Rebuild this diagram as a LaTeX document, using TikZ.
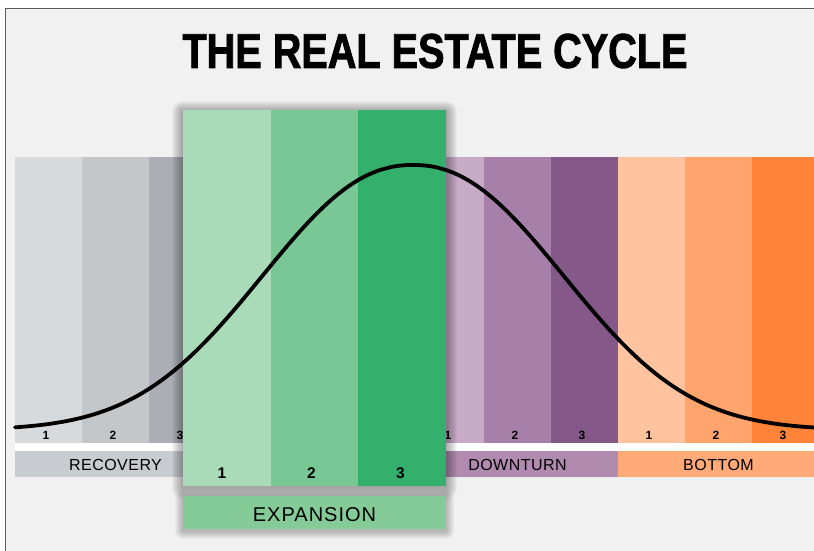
\documentclass[tikz,border=0pt]{standalone}
\usepackage{fontspec}
\setmainfont{Liberation Sans}
\usepackage{graphicx}
\definecolor{bgc}{HTML}{F0F1F0}
\definecolor{framec}{HTML}{5A5A5A}
\definecolor{g1}{HTML}{D7DADD}
\definecolor{g2}{HTML}{C3C7CA}
\definecolor{g3}{HTML}{ABAFB5}
\definecolor{e1}{HTML}{A9DBB8}
\definecolor{e2}{HTML}{78C794}
\definecolor{e3}{HTML}{33B06C}
\definecolor{p1}{HTML}{C8ABC7}
\definecolor{p2}{HTML}{A680A8}
\definecolor{p3}{HTML}{845889}
\definecolor{o1}{HTML}{FFC49F}
\definecolor{o2}{HTML}{FFA46C}
\definecolor{o3}{HTML}{FF8338}
\definecolor{lrec}{HTML}{C8CBCF}
\definecolor{lexp}{HTML}{85CB98}
\definecolor{ldown}{HTML}{B18AB0}
\definecolor{lbot}{HTML}{FFAA77}
\tikzset{
  segnum/.style={inner sep=0pt, font=\fontsize{12}{14}\selectfont\bfseries},
  bignum/.style={inner sep=0pt, font=\fontsize{15.5}{18}\selectfont\bfseries},
  barlabel/.style={inner sep=0pt, font=\fontsize{16}{19}\selectfont\addfontfeatures{LetterSpace=3}},
  explabel/.style={inner sep=0pt, font=\fontsize{20}{24}\selectfont\addfontfeatures{LetterSpace=5}},
  cyclecurve/.style={line width=3.8pt, line cap=round, line join=round}
}
\begin{document}
\begin{tikzpicture}[x=1pt,y=-1pt]
\useasboundingbox (0,0) rectangle (814,550);
\clip (0,0) rectangle (814,550);
% frame
\fill[white] (0,0) rectangle (814,550);
\fill[bgc] (5,8) rectangle (830,570);
\draw[framec, line width=1.6pt] (5.5,570) -- (5.5,8.3) -- (830,8.3);
% title
\node[inner sep=0pt] (title) at (435,51)
  {\resizebox{505pt}{34pt}{\bfseries\addfontfeatures{FakeBold=2}THE REAL ESTATE CYCLE}};
% bands
\foreach \c [count=\i from 0] in {g1,g2,g3,e1,e2,e3,p1,p2,p3,o1,o2,o3}{
  \fill[\c] (15+67*\i,157) rectangle (82+67*\i,443);
}
\foreach \n [count=\i from 0] in {1,2,3,1,2,3,1,2,3,1,2,3}{
  \node[segnum] (num\i) at (46+67*\i,435) {\n};
}
\fill[white] (15,443) rectangle (830,451);
% label bars
\fill[lrec] (15,451) rectangle (216,477);
\fill[lexp] (216,451) rectangle (417,477);
\fill[ldown] (417,451) rectangle (618,477);
\fill[lbot] (618,451) rectangle (830,477);
\node[barlabel] (recovery) at (115.5,465) {RECOVERY};
\node[barlabel] (downturn) at (517.5,465) {DOWNTURN};
\node[barlabel] (bottom) at (718.5,465) {BOTTOM};
% shadow of expansion box
\foreach \k in {1,...,11}{
  \fill[black, opacity=0.032, rounded corners=\k pt] (183-\k,110-\k+2) rectangle (446+\k,486+\k+2);
}
\fill[e1] (183,110) rectangle (271,486);
\fill[e2] (271,110) rectangle (358,486);
\fill[e3] (358,110) rectangle (446,486);
\node[bignum] (ex1) at (222,473) {1};
\node[bignum] (ex2) at (311.5,473) {2};
\node[bignum] (ex3) at (400.5,473) {3};
% shadow of expansion label
\foreach \k in {1,...,8}{
  \fill[black, opacity=0.03, rounded corners=\k pt] (183-\k,496-\k+2) rectangle (446+\k,529+\k+2);
}
\fill[lexp] (183,496) rectangle (446,529);
\node[explabel] (expansion) at (314.5,515) {EXPANSION};
% curve
\draw[cyclecurve] plot[domain=15:830, samples=240, smooth]
  (\x, {430-265*exp(-((abs(\x-413)+0.01)/199)^2.2)});
\end{tikzpicture}
\end{document}
